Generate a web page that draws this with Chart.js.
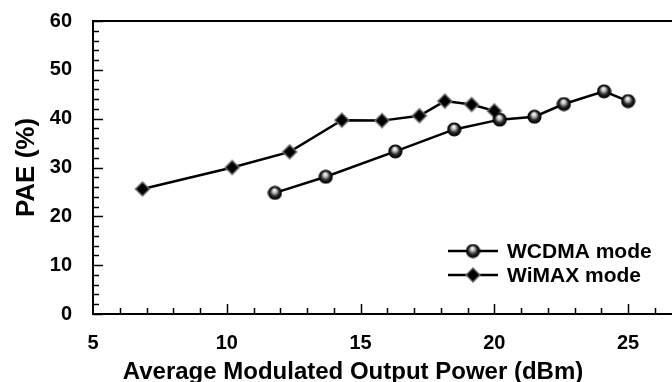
<!DOCTYPE html>
<html>
<head>
<meta charset="utf-8">
<script src="https://cdn.jsdelivr.net/npm/chart.js@4/dist/chart.umd.min.js"></script>
<style>
  html, body { margin: 0; padding: 0; background: #fff; }
  #wrap { width: 672px; height: 382px; position: relative; }
</style>
</head>
<body>
<div id="wrap"><canvas id="chart" width="672" height="382"></canvas></div>
<script>
// ============================================================
// Data
// ============================================================
const WCDMA_X = [11.8, 13.7, 16.3, 18.5, 20.2, 21.5, 22.6, 24.1, 25.0];
const WCDMA_Y = [24.8, 28.1, 33.3, 37.8, 39.8, 40.4, 43.0, 45.6, 43.6];

const WIMAX_X = [6.85, 10.2, 12.35, 14.3, 15.8, 17.2, 18.15, 19.15, 20.0];
const WIMAX_Y = [25.6, 30.0, 33.2, 39.7, 39.6, 40.6, 43.6, 42.9, 41.6];

const X_TICKS = [5, 10, 15, 20, 25];
const Y_TICKS = [0, 10, 20, 30, 40, 50, 60];

const SERIES_LABELS = ['WCDMA mode', 'WiMAX mode'];
const X_TITLE = 'Average Modulated Output Power (dBm)';
const Y_TITLE = 'PAE (%)';

const FONT = "'Liberation Sans', Arial, Helvetica, sans-serif";

// ============================================================
// Marker images
// ============================================================
function makeBall(r) {
  const c = document.createElement('canvas');
  c.width = c.height = r * 2 + 2;
  const g = c.getContext('2d');
  const cx = r + 1, cy = r + 1;
  const grad = g.createRadialGradient(cx - r * 0.1, cy - r * 0.45, r * 0.05, cx, cy, r);
  grad.addColorStop(0, '#ffffff');
  grad.addColorStop(0.3, '#bdbdbd');
  grad.addColorStop(0.65, '#2a2a2a');
  grad.addColorStop(1, '#000000');
  g.beginPath();
  g.arc(cx, cy, r, 0, Math.PI * 2);
  g.fillStyle = grad;
  g.fill();
  g.lineWidth = 1.2;
  g.strokeStyle = '#000';
  g.stroke();
  return c;
}

function makeDiamond(r) {
  const c = document.createElement('canvas');
  c.width = c.height = r * 2 + 2;
  const g = c.getContext('2d');
  const cx = r + 1, cy = r + 1;
  g.beginPath();
  g.moveTo(cx, cy - r);
  g.lineTo(cx + r, cy);
  g.lineTo(cx, cy + r);
  g.lineTo(cx - r, cy);
  g.closePath();
  g.fillStyle = '#6e6e6e';
  g.fill();
  const s = r - 2;
  g.beginPath();
  g.moveTo(cx, cy - s);
  g.lineTo(cx + s, cy);
  g.lineTo(cx, cy + s);
  g.lineTo(cx - s, cy);
  g.closePath();
  g.fillStyle = '#000';
  g.fill();
  return c;
}

const BALL = makeBall(6.5);
const DIAMOND = makeDiamond(8);

// ============================================================
// Plugins: inward ticks, top frame, x title, legend
// ============================================================
const frameAndTicks = {
  id: 'frameAndTicks',
  afterDraw(chart) {
    const { ctx, chartArea: a, scales: { x, y } } = chart;
    ctx.save();
    ctx.strokeStyle = '#000';
    ctx.lineWidth = 1.5;
    // y ticks (major every 10, minor every 2)
    for (let v = 0; v <= 60; v += 2) {
      const py = Math.round(y.getPixelForValue(v)) + 0.5;
      const len = v % 10 === 0 ? 10 : 6;
      ctx.beginPath();
      ctx.moveTo(a.left, py);
      ctx.lineTo(a.left + len, py);
      ctx.stroke();
    }
    // x ticks (major every 5, minor every 1)
    for (let v = 6; v <= Math.floor(x.max); v += 1) {
      const px = Math.round(x.getPixelForValue(v)) + 0.5;
      const len = v % 5 === 0 ? 10 : 6;
      ctx.beginPath();
      ctx.moveTo(px, a.bottom);
      ctx.lineTo(px, a.bottom - len);
      ctx.stroke();
    }
    // top frame line
    ctx.lineWidth = 2;
    ctx.beginPath();
    ctx.moveTo(a.left, a.top);
    ctx.lineTo(chart.width, a.top);
    ctx.stroke();

    // x axis title
    ctx.fillStyle = '#000';
    ctx.font = 'bold 24px ' + FONT;
    ctx.textAlign = 'center';
    ctx.textBaseline = 'alphabetic';
    ctx.fillText(X_TITLE, 353, 379);

    // legend
    const items = [{ img: BALL, y: a.bottom - 63 }, { img: DIAMOND, y: a.bottom - 39 }];
    ctx.font = 'bold 21px ' + FONT;
    ctx.textAlign = 'left';
    ctx.textBaseline = 'middle';
    items.forEach((it, i) => {
      ctx.lineWidth = 2.5;
      ctx.beginPath();
      ctx.moveTo(448, it.y);
      ctx.lineTo(498, it.y);
      ctx.stroke();
      ctx.drawImage(it.img, 473 - it.img.width / 2, it.y - it.img.height / 2);
      ctx.fillText(chart.data.datasets[i].label, 507, it.y + 1);
    });
    ctx.restore();
  },
};

// ============================================================
// Chart
// ============================================================
const toPoints = (xs, ys) => xs.map((v, i) => ({ x: v, y: ys[i] }));

new Chart(document.getElementById('chart').getContext('2d'), {
  type: 'line',
  data: {
    datasets: [
      {
        label: SERIES_LABELS[0],
        data: toPoints(WCDMA_X, WCDMA_Y),
        borderColor: '#000',
        borderWidth: 2.5,
        pointStyle: BALL,
        pointRadius: 7,
      },
      {
        label: SERIES_LABELS[1],
        data: toPoints(WIMAX_X, WIMAX_Y),
        borderColor: '#000',
        borderWidth: 2.5,
        pointStyle: DIAMOND,
        pointRadius: 7,
      },
    ],
  },
  options: {
    responsive: false,
    animation: false,
    devicePixelRatio: 1,
    layout: { autoPadding: false, padding: { top: 21, right: 0, left: 0, bottom: 0 } },
    elements: { line: { tension: 0 } },
    plugins: { legend: { display: false }, tooltip: { enabled: false } },
    scales: {
      x: {
        type: 'linear',
        min: 5,
        max: 26.64,
        afterBuildTicks: s => { s.ticks = X_TICKS.map(v => ({ value: v })); },
        afterFit: s => { s.height = 68; s.paddingLeft = 0; s.paddingRight = 0; },
        grid: { display: false },
        border: { display: true, color: '#000', width: 2 },
        ticks: {
          color: '#000',
          padding: 9,
          maxRotation: 0,
          font: { family: FONT, size: 20, weight: 'bold' },
        },
      },
      y: {
        min: 0,
        max: 60,
        afterBuildTicks: s => { s.ticks = Y_TICKS.map(v => ({ value: v })); },
        afterFit: s => { s.width = 93; s.paddingTop = 0; s.paddingBottom = 0; },
        grid: { display: false },
        border: { display: true, color: '#000', width: 2 },
        ticks: {
          color: '#000',
          padding: 13,
          font: { family: FONT, size: 20, weight: 'bold' },
        },
        title: {
          display: true,
          text: Y_TITLE,
          color: '#000',
          padding: { top: 11, bottom: 0 },
          font: { family: FONT, size: 26, weight: 'bold' },
        },
      },
    },
  },
  plugins: [frameAndTicks],
});
</script>
</body>
</html>
